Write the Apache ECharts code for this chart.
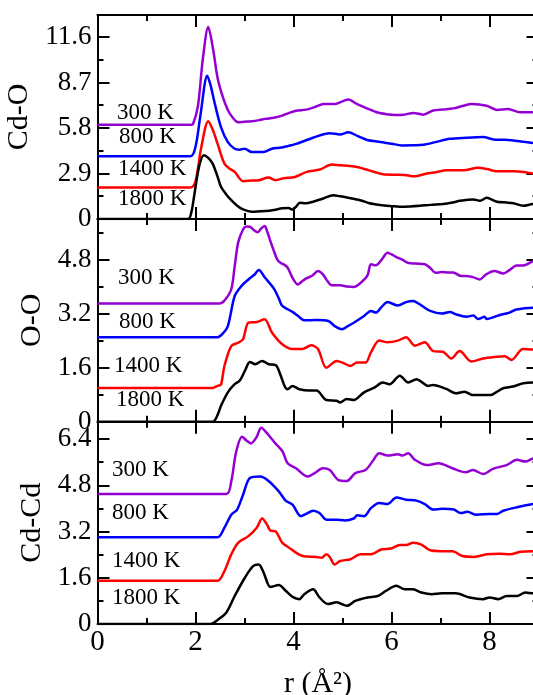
<!DOCTYPE html>
<html><head><meta charset="utf-8">
<script src="https://cdn.jsdelivr.net/npm/echarts@6/dist/echarts.min.js"></script>
<style>html,body{margin:0;padding:0;background:#fff}#c{width:533px;height:695px}</style>
</head><body><div id="c"></div>
<script>
// ---------- axis data ----------
const xMin = 0, xMax = 9, xMajor = 2, xMinor = 1;
const panelNames = ['Cd-O', 'O-O', 'Cd-Cd'];
const panelYMax = [13, 6.0, 7.0];
const panelYMajor = [2.9, 1.6, 1.6];
const panelYMinor = [1.45, 0.8, 0.8];
const tempLabels = ['300 K', '800 K', '1400 K', '1800 K'];
const seriesColors = ['#9400d3', '#0000ff', '#ff0000', '#000000'];
const xTitle = 'r (Å²)';

// ---------- Cd-O (plotted, with vertical offsets) ----------
const cdO_300 = [[0,6.0],[1.9,6.0],[1.95,6.05],[2.05,7.2],[2.15,10.2],[2.26,12.23],[2.36,10.8],[2.45,9.0],[2.56,7.75],[2.66,6.95],[2.75,6.5],[2.87,6.17],[3.0,6.2],[3.15,6.23],[3.3,6.3],[3.42,6.38],[3.6,6.45],[3.77,6.59],[3.9,6.75],[4.05,6.9],[4.26,6.97],[4.45,7.15],[4.61,7.33],[4.85,7.33],[5.0,7.5],[5.12,7.62],[5.29,7.33],[5.5,7.05],[5.7,6.8],[5.9,6.68],[6.07,6.63],[6.25,6.65],[6.45,6.76],[6.65,6.65],[6.85,6.91],[7.05,6.98],[7.26,7.05],[7.45,7.2],[7.64,7.33],[7.94,7.22],[8.15,6.95],[8.38,7.01],[8.62,6.8],[8.89,6.8],[9.0,6.78]];
const cdO_800 = [[0,4.0],[1.9,4.0],[2.0,4.6],[2.1,6.6],[2.24,9.13],[2.31,8.5],[2.38,7.54],[2.52,5.85],[2.66,4.9],[2.8,4.48],[2.9,4.42],[3.0,4.48],[3.15,4.27],[3.39,4.27],[3.56,4.48],[3.72,4.54],[3.85,4.62],[4.07,4.8],[4.4,5.18],[4.74,5.47],[4.95,5.39],[5.12,5.53],[5.3,5.3],[5.49,5.05],[5.77,4.9],[6.0,4.8],[6.21,4.69],[6.45,4.7],[6.65,4.73],[6.9,4.9],[7.19,5.11],[7.53,5.18],[7.87,5.22],[8.08,5.07],[8.3,5.05],[8.49,5.0],[8.7,4.92],[8.89,4.84],[9.0,4.82]];
const cdO_1400 = [[0,2.0],[1.9,2.0],[2.0,2.4],[2.12,4.6],[2.26,6.23],[2.35,5.7],[2.45,4.8],[2.59,3.53],[2.7,3.2],[2.8,3.0],[2.97,2.41],[3.15,2.45],[3.29,2.47],[3.49,2.64],[3.63,2.47],[3.8,2.6],[4.03,2.68],[4.27,3.0],[4.54,3.15],[4.78,3.47],[4.95,3.42],[5.15,3.38],[5.32,3.3],[5.49,3.15],[5.65,3.0],[5.83,2.85],[6.1,2.82],[6.31,2.79],[6.45,2.72],[6.72,2.9],[6.9,2.98],[7.13,3.1],[7.47,3.1],[7.77,3.27],[7.95,3.18],[8.15,3.04],[8.49,3.04],[8.7,3.0],[8.89,2.9],[9.0,2.9]];
const cdO_1800 = [[0,0],[1.85,0],[1.92,0.5],[1.97,1.42],[2.07,3.3],[2.17,4.06],[2.26,3.9],[2.35,3.53],[2.45,2.7],[2.52,2.05],[2.62,1.6],[2.73,1.2],[2.85,0.85],[2.97,0.61],[3.15,0.46],[3.42,0.51],[3.6,0.58],[3.77,0.68],[3.9,0.7],[3.98,0.6],[4.05,0.78],[4.13,1.03],[4.25,1.0],[4.4,1.1],[4.61,1.31],[4.81,1.52],[4.95,1.45],[5.09,1.37],[5.36,1.2],[5.55,1.0],[5.77,0.89],[6.0,0.82],[6.17,0.78],[6.38,0.8],[6.58,0.84],[6.8,0.9],[7.06,0.95],[7.25,1.05],[7.4,1.16],[7.67,1.25],[7.81,1.16],[7.94,1.35],[8.15,1.1],[8.35,1.05],[8.49,1.0],[8.69,0.84],[8.89,0.95],[9.0,0.95]];

// ---------- O-O ----------
const oO_300 = [[0,3.5],[2.5,3.5],[2.6,3.6],[2.73,3.92],[2.8,4.6],[2.87,5.3],[2.97,5.69],[3.04,5.78],[3.11,5.77],[3.2,5.66],[3.27,5.61],[3.34,5.72],[3.41,5.79],[3.47,5.6],[3.53,5.34],[3.6,5.05],[3.67,4.8],[3.74,4.7],[3.81,4.65],[3.88,4.56],[3.98,4.26],[4.09,4.06],[4.17,4.15],[4.26,4.24],[4.38,4.32],[4.5,4.46],[4.6,4.36],[4.7,4.15],[4.78,4.04],[4.95,4.04],[5.1,4.0],[5.23,3.99],[5.37,4.11],[5.51,4.33],[5.58,4.66],[5.68,4.63],[5.8,4.8],[5.92,5.0],[6.0,4.95],[6.13,4.85],[6.22,4.8],[6.34,4.7],[6.5,4.68],[6.68,4.66],[6.79,4.55],[6.9,4.41],[7.03,4.43],[7.15,4.42],[7.26,4.42],[7.4,4.32],[7.53,4.31],[7.66,4.28],[7.8,4.21],[7.93,4.36],[8.1,4.46],[8.28,4.39],[8.42,4.5],[8.55,4.62],[8.69,4.62],[8.89,4.75],[9.0,4.76]];
const oO_800 = [[0,2.5],[2.45,2.5],[2.55,2.6],[2.66,2.83],[2.8,3.72],[2.94,4.02],[3.08,4.21],[3.2,4.35],[3.29,4.49],[3.42,4.26],[3.6,3.94],[3.7,3.65],[3.77,3.43],[3.98,3.25],[4.1,3.12],[4.22,3.0],[4.47,3.01],[4.71,2.98],[4.85,2.82],[4.99,2.74],[5.1,2.82],[5.23,2.93],[5.44,3.13],[5.58,3.28],[5.68,3.23],[5.8,3.4],[5.92,3.54],[6.13,3.44],[6.3,3.54],[6.44,3.57],[6.6,3.45],[6.79,3.28],[7.03,3.2],[7.19,3.25],[7.31,3.18],[7.53,3.11],[7.67,3.14],[7.77,3.04],[7.9,3.11],[7.94,3.04],[8.21,3.16],[8.41,3.23],[8.55,3.32],[8.89,3.37],[9.0,3.37]];
const oO_1400 = [[0,1.0],[2.35,1.0],[2.45,1.06],[2.52,1.1],[2.59,1.65],[2.73,2.24],[2.87,2.34],[2.97,2.44],[3.08,2.93],[3.25,2.95],[3.41,3.03],[3.56,2.64],[3.77,2.29],[3.98,2.15],[4.18,2.15],[4.36,2.26],[4.5,2.15],[4.67,1.6],[4.88,1.8],[5.0,1.75],[5.16,1.65],[5.3,1.75],[5.47,1.75],[5.58,2.05],[5.75,2.4],[5.92,2.35],[6.13,2.4],[6.3,2.5],[6.48,2.25],[6.68,2.35],[6.85,2.09],[7.05,2.07],[7.22,1.87],[7.39,2.09],[7.63,1.78],[7.87,1.87],[8.14,1.92],[8.31,1.94],[8.45,1.83],[8.68,2.15],[8.89,2.14],[9.0,2.14]];
const oO_1800 = [[0,0],[2.35,0],[2.45,0.2],[2.52,0.47],[2.66,0.87],[2.8,1.11],[2.9,1.21],[3.01,1.51],[3.11,1.77],[3.22,1.7],[3.36,1.8],[3.5,1.7],[3.64,1.67],[3.74,1.36],[3.82,1.05],[3.88,0.96],[3.98,1.06],[4.12,0.96],[4.33,0.92],[4.47,0.92],[4.67,0.64],[4.88,0.62],[4.95,0.57],[5.09,0.67],[5.23,0.64],[5.44,0.87],[5.65,1.01],[5.82,1.16],[5.96,1.11],[6.17,1.36],[6.34,1.16],[6.51,1.26],[6.75,1.06],[6.85,1.09],[7.12,0.97],[7.32,0.84],[7.49,0.89],[7.66,0.79],[8.03,0.79],[8.1,0.84],[8.28,0.99],[8.48,1.04],[8.69,1.14],[8.89,1.16],[9.0,1.16]];

// ---------- Cd-Cd ----------
const cdCd_300 = [[0,4.5],[2.63,4.5],[2.73,4.93],[2.83,5.96],[2.95,6.48],[3.04,6.35],[3.13,6.25],[3.25,6.48],[3.34,6.79],[3.49,6.54],[3.63,6.25],[3.78,5.96],[3.88,5.56],[4.05,5.39],[4.29,5.1],[4.43,5.22],[4.6,5.39],[4.74,5.33],[4.91,4.99],[5.09,4.95],[5.26,5.22],[5.47,5.33],[5.61,5.62],[5.75,5.91],[5.92,5.83],[6.13,5.87],[6.23,5.83],[6.34,5.91],[6.48,5.68],[6.72,5.5],[6.96,5.56],[7.24,5.39],[7.52,5.25],[7.66,5.33],[7.87,5.19],[8.07,5.37],[8.35,5.5],[8.56,5.68],[8.73,5.62],[8.89,5.73],[9.0,5.75]];
const cdCd_800 = [[0,3.0],[2.45,3.0],[2.59,3.33],[2.73,3.78],[2.85,3.96],[2.97,4.47],[3.11,5.05],[3.32,5.1],[3.49,4.95],[3.7,4.59],[3.84,4.27],[3.98,4.13],[4.15,3.73],[4.26,3.81],[4.4,3.92],[4.53,3.84],[4.67,3.61],[4.88,3.61],[5.05,3.58],[5.23,3.65],[5.3,3.76],[5.44,3.73],[5.58,4.01],[5.75,4.19],[5.92,4.15],[6.1,4.38],[6.3,4.3],[6.51,4.27],[6.68,4.15],[6.85,3.96],[7.03,3.99],[7.27,3.96],[7.41,3.84],[7.55,3.88],[7.73,3.78],[8.0,3.81],[8.15,3.81],[8.28,3.92],[8.56,4.04],[8.89,4.15],[9.0,4.17]];
const cdCd_1400 = [[0,1.5],[2.45,1.5],[2.59,1.83],[2.73,2.41],[2.87,2.81],[3.08,3.04],[3.25,3.33],[3.36,3.65],[3.46,3.44],[3.53,3.23],[3.63,3.21],[3.77,2.81],[3.91,2.64],[4.05,2.47],[4.19,2.35],[4.47,2.32],[4.57,2.29],[4.67,2.41],[4.74,2.32],[4.84,2.06],[4.95,2.18],[5.16,2.24],[5.37,2.41],[5.58,2.41],[5.79,2.58],[5.99,2.61],[6.17,2.73],[6.3,2.73],[6.44,2.81],[6.61,2.75],[6.79,2.55],[7.03,2.52],[7.24,2.52],[7.45,2.35],[7.69,2.32],[7.94,2.41],[8.21,2.43],[8.42,2.41],[8.63,2.5],[8.89,2.52],[9.0,2.52]];
const cdCd_1800 = [[0,0],[2.31,0],[2.45,0.14],[2.63,0.4],[2.8,0.97],[3.01,1.61],[3.18,2.01],[3.29,2.06],[3.39,1.78],[3.53,1.28],[3.7,1.35],[3.84,1.15],[3.98,0.94],[4.12,0.86],[4.22,1.03],[4.4,1.2],[4.53,0.92],[4.7,0.69],[4.88,0.75],[5.09,0.63],[5.26,0.8],[5.51,0.92],[5.72,0.97],[5.89,1.15],[6.1,1.32],[6.27,1.2],[6.44,1.2],[6.61,1.09],[6.82,1.03],[7.03,1.06],[7.31,1.06],[7.59,0.92],[7.87,0.86],[8.0,0.92],[8.18,0.86],[8.35,0.97],[8.56,0.97],[8.73,1.09],[8.89,1.06],[9.0,1.06]];

const panelSeries = [
  [cdO_300, cdO_800, cdO_1400, cdO_1800],
  [oO_300, oO_800, oO_1400, oO_1800],
  [cdCd_300, cdCd_800, cdCd_1400, cdCd_1800]
];

// ---------- layout / style ----------
const FONT = '"Liberation Serif","Times New Roman",serif';
const gridLeft = 97.5, gridWidth = 441;
const gridTops = [15, 219, 421.7];
const gridHeights = [204, 202.7, 202.3];
const yNameGaps = [59, 45, 45];
const labelPos = [
  [[117,113],[119,137],[118,169],[118,199]],
  [[118,278],[119,322],[114,366],[116,400]],
  [[112,470],[112,513],[112,561],[112,598]]
];

const fmt = v => (Math.abs(v) < 1e-9 ? '0' : String(+v.toFixed(2)));
const line = { show: true, onZero: false, lineStyle: { color: '#000', width: 2 } };
const noLine = { show: false, onZero: false };

const grid = [], xAxis = [], yAxis = [], series = [];
for (let p = 0; p < 3; p++) {
  grid.push({ left: gridLeft, width: gridWidth, top: gridTops[p], height: gridHeights[p], containLabel: false, outerBoundsMode: 'none', show: false });
  const xBase = { gridIndex: p, type: 'value', min: xMin, max: xMax, splitLine: { show: false } };
  const last = p === 2;
  xAxis.push(Object.assign({}, xBase, { position: 'bottom', interval: xMajor, axisLine: line,
    axisTick: { show: true, inside: true, length: 12, lineStyle: { color: '#000', width: 2 } },
    axisLabel: { show: last, fontFamily: FONT, fontSize: 29, color: '#000', margin: 4, showMaxLabel: false, formatter: fmt },
    name: last ? xTitle : '', nameLocation: 'middle', nameGap: 45,
    nameTextStyle: { fontFamily: FONT, fontSize: 30, color: '#000' } }));
  xAxis.push(Object.assign({}, xBase, { position: 'bottom', interval: xMinor, axisLine: noLine,
    axisTick: { show: true, inside: true, length: 6, lineStyle: { color: '#000', width: 2 } }, axisLabel: { show: false } }));
  xAxis.push(Object.assign({}, xBase, { position: 'top', interval: xMajor, axisLine: line,
    axisTick: { show: true, inside: true, length: 12, lineStyle: { color: '#000', width: 2 } }, axisLabel: { show: false } }));
  xAxis.push(Object.assign({}, xBase, { position: 'top', interval: xMinor, axisLine: noLine,
    axisTick: { show: true, inside: true, length: 6, lineStyle: { color: '#000', width: 2 } }, axisLabel: { show: false } }));

  const yBase = { gridIndex: p, type: 'value', min: 0, max: panelYMax[p], splitLine: { show: false } };
  yAxis.push(Object.assign({}, yBase, { position: 'left', interval: panelYMajor[p], axisLine: line,
    axisTick: { show: true, inside: true, length: 12, lineStyle: { color: '#000', width: 2 } },
    axisLabel: { show: true, fontFamily: FONT, fontSize: 27, color: '#000', margin: 6, showMaxLabel: false, formatter: fmt },
    name: panelNames[p], nameLocation: 'middle', nameGap: yNameGaps[p],
    nameTextStyle: { fontFamily: FONT, fontSize: 30, color: '#000' } }));
  yAxis.push(Object.assign({}, yBase, { position: 'left', interval: panelYMinor[p], axisLine: noLine,
    axisTick: { show: true, inside: true, length: 6, lineStyle: { color: '#000', width: 2 } }, axisLabel: { show: false } }));
  yAxis.push(Object.assign({}, yBase, { position: 'right', interval: panelYMajor[p], axisLine: line,
    axisTick: { show: true, inside: true, length: 12, lineStyle: { color: '#000', width: 2 } }, axisLabel: { show: false } }));
  yAxis.push(Object.assign({}, yBase, { position: 'right', interval: panelYMinor[p], axisLine: noLine,
    axisTick: { show: true, inside: true, length: 6, lineStyle: { color: '#000', width: 2 } }, axisLabel: { show: false } }));

  panelSeries[p].forEach((d, k) => {
    series.push({ type: 'line', xAxisIndex: 4 * p, yAxisIndex: 4 * p, data: d, showSymbol: false, symbol: 'none',
      smooth: 0.3, clip: true, lineStyle: { color: seriesColors[k], width: 2.5 }, z: 3, silent: true });
  });
}

const graphic = [];
for (let p = 0; p < 3; p++) {
  tempLabels.forEach((t, k) => {
    graphic.push({ type: 'text', x: labelPos[p][k][0], y: labelPos[p][k][1], z: 10,
      style: { text: t, font: '23px ' + FONT, fill: '#000', align: 'left', verticalAlign: 'middle' } });
  });
}

const chart = echarts.init(document.getElementById('c'), null, { renderer: 'canvas' });
chart.setOption({ backgroundColor: '#fff', animation: false, grid, xAxis, yAxis, series, graphic });
</script></body></html>
